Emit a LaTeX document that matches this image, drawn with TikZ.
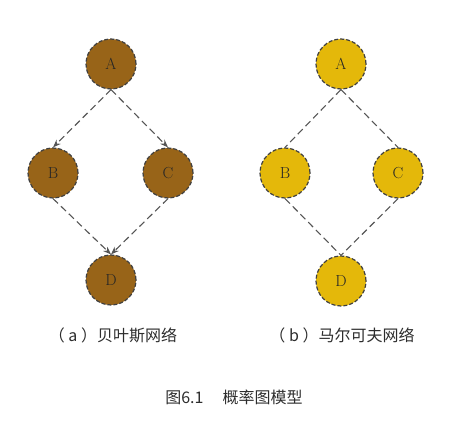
\documentclass[tikz,border=0pt]{standalone}
\usepackage{fontspec}
\newfontfamily\cjk{Noto Sans CJK SC}
\usetikzlibrary{arrows.meta}
\definecolor{bayes}{RGB}{152,100,24}
\definecolor{markov}{RGB}{228,184,10}
\definecolor{edgegray}{RGB}{85,85,85}
\definecolor{txt}{RGB}{45,45,45}
\tikzset{
  vnode/.style={circle,minimum size=50pt,inner sep=0pt,draw=black!75,line width=1.2pt,dash pattern=on 4pt off 2pt,font=\fontsize{16pt}{16pt}\selectfont,text=black!85},
  bn/.style={vnode,fill=bayes},
  mn/.style={vnode,fill=markov},
  dedge/.style={draw=edgegray,line width=1.1pt,dash pattern=on 7pt off 4pt},
  darr/.style={dedge,-{Stealth[length=8pt,width=6pt]}},
  lab/.style={font=\cjk\fontsize{16pt}{16pt}\selectfont,text=txt}
}
\begin{document}
\begin{tikzpicture}[x=1pt,y=-1pt]
\useasboundingbox (0,0) rectangle (467,428);
% Bayesian network
\node[bn] (A1) at (111,64) {A};
\node[bn] (B1) at (53,173) {B};
\node[bn] (C1) at (168,173) {C};
\node[bn] (D1) at (111,280) {D};
\draw[darr] (A1.south) -- (B1.north);
\draw[darr] (A1.south) -- (C1.north);
\draw[darr] (B1.south) -- (D1.north);
\draw[darr] (C1.south) -- (D1.north);
% Markov network
\node[mn] (A2) at (341,64) {A};
\node[mn] (B2) at (285,173) {B};
\node[mn] (C2) at (398,173) {C};
\node[mn] (D2) at (341,281) {D};
\draw[dedge] (A2.south) -- (B2.north);
\draw[dedge] (A2.south) -- (C2.north);
\draw[dedge] (B2.south) -- (D2.north);
\draw[dedge] (C2.south) -- (D2.north);
% labels
\node[lab] (la) at (113,335) {（ a ）贝叶斯网络};
\node[lab] (lb) at (342,335) {（ b ）马尔可夫网络};
\node[font=\cjk\fontsize{16pt}{16pt}\selectfont,text=txt] (cap) at (234,397) {图6.1\hspace{1.2em}概率图模型};
\end{tikzpicture}
\end{document}
